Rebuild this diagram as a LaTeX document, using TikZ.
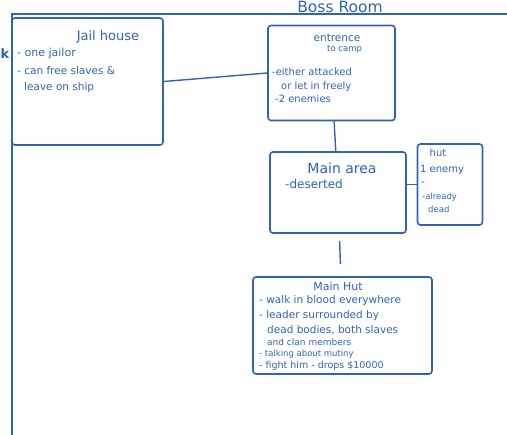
\documentclass[tikz,border=0pt]{standalone}
\usepackage{fontspec}
\setmainfont{DejaVu Sans}
\usepackage{xcolor}
\usepackage{tikz}
\definecolor{pen}{RGB}{47,98,189}

\begin{document}
\begin{tikzpicture}[x=1pt,y=-1pt,
    room/.style={shape=rectangle,draw=pen,line width=1.6pt,rounded corners=3pt,inner sep=0pt},
    note/.style={text=pen,font=\fontsize{10.5}{12}\selectfont,anchor=west,inner sep=0pt},
    small/.style={note,font=\fontsize{8.5}{10}\selectfont},
    title/.style={text=pen,font=\fontsize{13}{15}\selectfont,inner sep=0pt}]
    \useasboundingbox (0,0) rectangle (507,435);
        % frame of the map
        \coordinate (corner) at (12,14);
        \coordinate (topend) at (507,14);
        \coordinate (botend) at (12,435);
        \draw[pen,line width=1.4pt] (topend) -- (corner) -- (botend);
        \node[title,font=\fontsize{15.5}{17}\selectfont,anchor=south] (boss) at (340,13){Boss Room};
        \node[title,font=\fontsize{13}{15}\selectfont\bfseries,anchor=west] (kay) at (0.5,54){k};
        % rooms
        \node[room,minimum width=151pt,minimum height=127pt] (jail) at (87.5,81.5){};
        \node[room,minimum width=127pt,minimum height=95pt] (entr) at (331.5,73){};
        \node[room,minimum width=136pt,minimum height=81pt] (main) at (338,192.5){};
        \node[room,minimum width=65pt,minimum height=81pt] (hut) at (450,184.5){};
        \node[room,minimum width=179pt,minimum height=97pt] (mhut) at (342.5,325.5){};
        % connectors
        \path [-,draw=pen,line width=1.4pt](jail.east) edge (entr.west);
        \path [-,draw=pen,line width=1.4pt](entr) edge (main);
        \path [-,draw=pen,line width=1.4pt](hut.west) edge (hut.west -| main.east);
        \path [-,draw=pen,line width=1.4pt,shorten <=7pt,shorten >=12pt](main) edge (mhut);
        % jail house
        \node[title] (jailT) at (108,37){Jail house};
        \node[note,font=\fontsize{11}{13}\selectfont] (jail1) at (17,53){- one jailor};
        \node[note] (jail2) at (17,71){- can free slaves \&};
        \node[note] (jail3) at (24,88){leave on ship};
        % entrence
        \node[title,font=\fontsize{10.5}{13}\selectfont] (entrT) at (337,38){entrence};
        \node[small] (entrS) at (327,49){to camp};
        \node[note,font=\fontsize{10}{12}\selectfont] (entr1) at (272,72){-either attacked};
        \node[note,font=\fontsize{10}{12}\selectfont] (entr2) at (281,87){or let in freely};
        \node[note,font=\fontsize{10}{12}\selectfont] (entr3) at (275,99){-2 enemies};
        % main area
        \node[title,font=\fontsize{14}{16}\selectfont] (mainT) at (342,168){Main area};
        \node[note,font=\fontsize{12}{14}\selectfont] (main1) at (285,184){-deserted};
        % hut
        \node[title,font=\fontsize{10}{12}\selectfont] (hutT) at (438,153){hut};
        \node[note,font=\fontsize{10}{12}\selectfont] (hut1) at (420,170){1 enemy};
        \node[note] (hut2) at (421,184){-};
        \node[small] (hut3) at (422,197){-already};
        \node[small] (hut4) at (428,209){dead};
        % main hut
        \node[title,font=\fontsize{11}{13}\selectfont] (mhutT) at (338,286){Main Hut};
        \node[note] (mhut1) at (259,301){- walk in blood everywhere};
        \node[note] (mhut2) at (259,316){- leader surrounded by};
        \node[note] (mhut3) at (267,330){dead bodies, both slaves};
        \node[small,font=\fontsize{9}{10}\selectfont] (mhut4) at (267,342){and clan members};
        \node[small] (mhut5) at (259,354){- talking about mutiny};
        \node[note,font=\fontsize{9.5}{11}\selectfont] (mhut6) at (259,366){- fight him - drops \$10000};
    \end{tikzpicture}
\end{document}
